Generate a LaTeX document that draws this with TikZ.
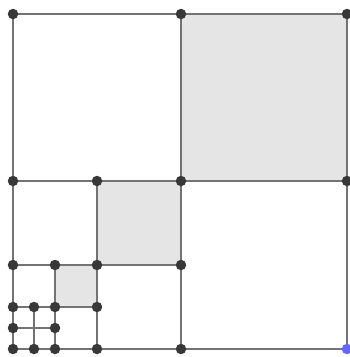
\documentclass[tikz,border=0pt]{standalone}
\begin{document}
\begin{tikzpicture}[x=1pt,y=-1pt,
  grid/.style={draw=black!55,line width=2.6pt},
  cell/.style={fill=black!10},
  dot/.style={circle,fill=black!78,inner sep=0pt,minimum size=10.5pt},
  bluedot/.style={circle,fill=blue!60,inner sep=0pt,minimum size=10.5pt}]
\useasboundingbox (0,0) rectangle (349,357);
% grid coordinates: x = 13,34,55,97,181,347 ; y = 349,328,307,265,181,14
\foreach \u/\x in {0/13,1/34,2/55,4/97,8/181,16/347}{
  \foreach \v/\y in {0/349,1/328,2/307,4/265,8/181,16/14}{
    \coordinate (p\u-\v) at (\x,\y);
  }
}
% shaded cells
\fill[cell] (p8-8) rectangle (p16-16);
\fill[cell] (p4-4) rectangle (p8-8);
\fill[cell] (p2-2) rectangle (p4-4);
% lines
\draw[grid] (p0-0) rectangle (p16-16);
\draw[grid] (p8-0) -- (p8-16);
\draw[grid] (p0-8) -- (p16-8);
\draw[grid] (p4-0) -- (p4-8);
\draw[grid] (p0-4) -- (p8-4);
\draw[grid] (p2-0) -- (p2-4);
\draw[grid] (p0-2) -- (p4-2);
\draw[grid] (p1-0) -- (p1-2);
\draw[grid] (p0-1) -- (p2-1);
% dots
\foreach \p in {0-16,8-16,16-16,
                0-8,4-8,8-8,16-8,
                0-4,2-4,4-4,8-4,
                0-2,1-2,2-2,4-2,
                0-1,2-1,
                0-0,1-0,2-0,4-0,8-0}{
  \node[dot] (d\p) at (p\p) {};
}
\node[bluedot] (d16-0) at (p16-0) {};
\end{tikzpicture}
\end{document}
